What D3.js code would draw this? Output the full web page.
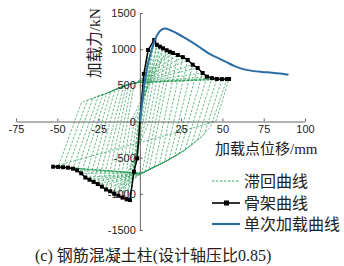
<!DOCTYPE html>
<html>
<head>
<meta charset="utf-8">
<script src="https://cdn.jsdelivr.net/npm/d3@7"></script>
<style>
  html, body { margin: 0; padding: 0; background: #fff; }
  svg { display: block; }
  .tick text { font-family: "Liberation Sans", Arial, sans-serif; font-size: 11px; fill: #222; }
  .serif { font-family: "Liberation Serif", "Noto Sans CJK SC", serif; fill: #222; }
</style>
</head>
<body>
<div id="chart"></div>
<script>
// axis ticks
const xTicks = [-75, -50, -25, 25, 50, 75, 100];
const yTicks = [-1500, -1000, -500, 0, 500, 1000, 1500];

// cycle peaks on the positive side (mm, kN) = skeleton points
const posD = [2.4, 5.0, 8.7, 10.3, 12.1, 14.0, 16.2, 18.2, 20.0, 23.0, 26.0, 29.0, 32.0, 35.0, 38.0, 40.6, 43.6, 46.6, 49.7, 52.7, 54.0];
const posF = [657, 989, 1127, 1060, 1035, 1012, 985, 963, 947, 920, 890, 851, 785, 740, 671, 620, 600, 588, 586, 586, 588];
// displacement where unloading from the positive peak crosses zero force
const posZero = [0.3, 0.6, 1.0, 2.0, 3.5, 5.5, 7.5, 9.5, 11.5, 14.5, 17.5, 20.5, 23.5, 26.5, 29.5, 32.5, 35.5, 38.5, 41.5, 44.0, 46.0];

// cycle peaks on the negative side
const negD = [-1.6, -3.6, -6.0, -8.0, -10.5, -13.0, -15.5, -18.0, -20.5, -23.0, -25.5, -28.0, -30.5, -33.0, -35.5, -38.0, -40.5, -43.5, -46.5, -49.5, -52.5];
const negF = [-509, -694, -1086, -1076, -1052, -1025, -1000, -965, -940, -900, -865, -835, -805, -775, -716, -675, -652, -638, -632, -628, -625];
const negZero = [-0.3, -0.6, -1.0, -2.0, -3.5, -5.5, -7.5, -9.5, -11.5, -13.5, -15.5, -18.0, -20.5, -23.0, -25.5, -28.0, -30.5, -33.5, -36.5, -39.5, -42.5];

// pinching paths the reloading branches run along
const lowerPinchX = [45.5, 41.5, 37.4, 32.3, 27.3, 22.2, 17.2, 12.1, 7.1, 4.0, 1.1];
const lowerPinchF = [0, -105, -210, -305, -394, -465, -532, -592, -647, -685, -716];
const upperPinchX = [-56, -45, -34, -27, -20, -14, -8, -2];
const upperPinchF = [10, 160, 274, 335, 390, 450, 505, 537];

// monotonic loading curve
const monoX = [0, 1.5, 3.1, 5.0, 7.1, 9.1, 11.1, 13.2, 15.2, 18.2, 22.3, 27, 32, 37, 42.5, 47.5, 52.5, 57, 62, 68, 74, 80, 85, 90];
const monoF = [0, 290, 574, 805, 989, 1127, 1220, 1270, 1285, 1265, 1220, 1160, 1090, 1015, 930, 875, 820, 770, 728, 700, 685, 675, 662, 645];

const legendLabels = ["滞回曲线", "骨架曲线", "单次加载曲线"];
const caption = "(c) 钢筋混凝土柱(设计轴压比0.85)";

const W = 344, H = 266;
const green = "#2f9d5c", blue = "#2b6ca3";

const svg = d3.select("#chart").append("svg").attr("width", W).attr("height", H);

const x = d3.scaleLinear().domain([-75, 100]).range([16, 305]);
const y = d3.scaleLinear().domain([-1500, 1500]).range([230, 13]);

const zip = (a, b) => a.map((v, i) => [v, b[i]]);
const lowerPinch = zip(lowerPinchX, lowerPinchF);
const upperPinch = zip(upperPinchX, upperPinchF);

// unloading line through the peak and its zero crossing, continued until it meets the pinching path
function branch(peak, zero, bnd) {
  const s = peak[1] / (peak[0] - zero);
  const out = [[zero, 0]];
  for (let j = 0; j < bnd.length - 1; j++) {
    const a = bnd[j], b = bnd[j + 1];
    const da = s * (a[0] - zero) - a[1];
    const db = s * (b[0] - zero) - b[1];
    if (da * db <= 0 && da !== db) {
      const t = da / (da - db);
      out.push([a[0] + t * (b[0] - a[0]), a[1] + t * (b[1] - a[1])]);
      return out.concat(bnd.slice(j + 1));
    }
  }
  return out;
}

const hyst = [[0, 0]];
posD.forEach((d, i) => {
  const p = [d, posF[i]];
  hyst.push(p);
  hyst.push(...branch(p, posZero[i], lowerPinch));
  const n = [negD[i], negF[i]];
  hyst.push(n);
  if (i < posD.length - 1) hyst.push(...branch(n, negZero[i], upperPinch));
});

const line = d3.line().x(d => x(d[0])).y(d => y(d[1]));

// hysteresis loops
svg.append("path")
  .datum(hyst)
  .attr("d", line)
  .attr("fill", "none")
  .attr("stroke", green)
  .attr("stroke-width", 0.7)
  .attr("stroke-dasharray", "2.5,1.5");

// axes
const xAxis = d3.axisBottom(x).tickValues(xTicks).tickSizeInner(-3).tickSizeOuter(0).tickPadding(4).tickFormat(d3.format("d"));
const gx = svg.append("g").attr("transform", `translate(0,${y(0)})`).call(xAxis);
const yAxis = d3.axisLeft(y).tickValues(yTicks).tickSizeInner(-3).tickSizeOuter(0).tickPadding(4).tickFormat(d3.format("d"));
const gy = svg.append("g").attr("transform", `translate(${x(0)},0)`).call(yAxis);
[gx, gy].forEach(g => {
  g.select(".domain").attr("stroke", "#666");
  g.selectAll(".tick line").attr("stroke", "#666");
  g.selectAll(".tick text").text(d => d < 0 ? "-" + Math.abs(d) : d);
});

// skeleton curves
const skeleton = [[0, 0]].concat(zip(posD, posF));
const skeletonNeg = [[0, 0]].concat(zip(negD, negF));
[skeleton, skeletonNeg].forEach(s => {
  svg.append("path").datum(s).attr("d", line)
    .attr("fill", "none").attr("stroke", "#000").attr("stroke-width", 1.5);
  svg.append("g").selectAll("rect").data(s.slice(1)).join("rect")
    .attr("x", d => x(d[0]) - 2).attr("y", d => y(d[1]) - 2)
    .attr("width", 4).attr("height", 4).attr("fill", "#000");
});

// monotonic curve
svg.append("path")
  .datum(zip(monoX, monoF))
  .attr("d", line.curve(d3.curveCatmullRom))
  .attr("fill", "none")
  .attr("stroke", blue)
  .attr("stroke-width", 2);

// axis titles
svg.append("text").attr("class", "serif")
  .attr("transform", `translate(100,43) rotate(-90)`)
  .attr("text-anchor", "middle")
  .style("font-size", "15.5px")
  .text("加载力/kN");
svg.append("text").attr("class", "serif")
  .attr("x", 215).attr("y", 149)
  .attr("dominant-baseline", "central")
  .style("font-size", "15px")
  .text("加载点位移/mm");

// legend
const legY = [181, 203, 224];
const leg = svg.append("g");
leg.append("line").attr("x1", 212).attr("x2", 240).attr("y1", legY[0]).attr("y2", legY[0])
  .attr("stroke", green).attr("stroke-width", 0.9).attr("stroke-dasharray", "2.5,1.5");
leg.append("line").attr("x1", 212).attr("x2", 240).attr("y1", legY[1]).attr("y2", legY[1])
  .attr("stroke", "#000").attr("stroke-width", 1.6);
leg.append("rect").attr("x", 224).attr("y", legY[1] - 2.5).attr("width", 5).attr("height", 5).attr("fill", "#000");
leg.append("line").attr("x1", 212).attr("x2", 240).attr("y1", legY[2]).attr("y2", legY[2])
  .attr("stroke", blue).attr("stroke-width", 2.2);
leg.selectAll("text").data(legendLabels).join("text")
  .attr("class", "serif")
  .attr("x", 244).attr("y", (d, i) => legY[i])
  .attr("dominant-baseline", "central")
  .style("font-size", "16px")
  .text(d => d);

// caption
svg.append("text").attr("class", "serif")
  .attr("x", 35).attr("y", 255)
  .attr("dominant-baseline", "central")
  .style("font-size", "16px")
  .text(caption);
</script>
</body>
</html>
